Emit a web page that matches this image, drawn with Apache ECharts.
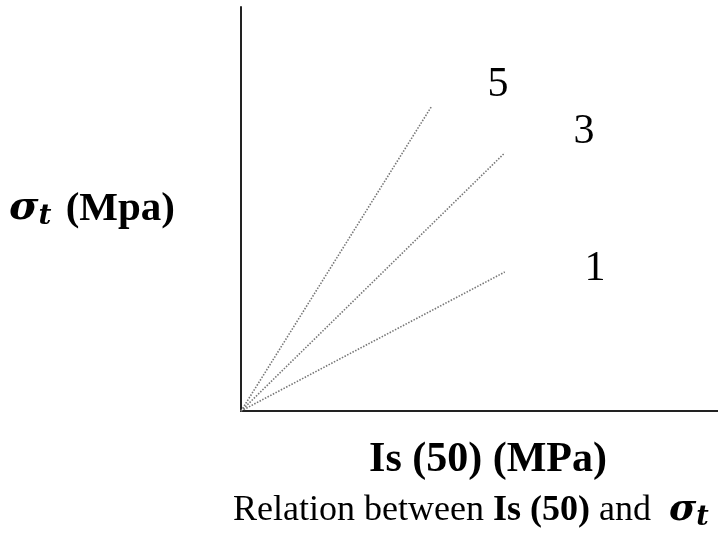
<!DOCTYPE html>
<html><head><meta charset="utf-8">
<script src="https://cdn.jsdelivr.net/npm/echarts@6/dist/echarts.min.js"></script>
<style>html,body{margin:0;padding:0;background:#fff}#c{width:718px;height:537px}</style>
</head><body><div id="c"></div>
<script>
// Line labels and end points (all lines start at origin)
const lineNames = ['5', '3', '1'];
const startX = [0, 0, 0];
const startY = [0, 0, 0];
const endX = [4.0, 5.53, 5.53];
const endY = [7.55, 6.39, 3.44];
// Label positions for the numbers
const labelX = [5.39, 7.19, 7.42];
const labelY = [8.07, 6.91, 3.51];

const chart = echarts.init(document.getElementById('c'));
const serif = "'Liberation Serif', 'Times New Roman', serif";
const mathSerif = "'DejaVu Serif', serif";

const series = lineNames.map((n, i) => ({
  type: 'line',
  name: 'k=' + n,
  data: [[startX[i], startY[i]], [endX[i], endY[i]]],
  symbol: 'none',
  lineStyle: { color: '#777', width: 1.6, type: [1.5, 1.5] },
  silent: true
}));
series.push({
  type: 'scatter',
  data: lineNames.map((n, i) => [labelX[i], labelY[i], n]),
  symbolSize: 0,
  itemStyle: { opacity: 1, color: '#000' },
  label: {
    show: true, position: 'inside', opacity: 1,
    formatter: p => p.data[2],
    fontFamily: serif, fontSize: 42, color: '#000', textBorderWidth: 0
  },
  silent: true
});

chart.setOption({
  animation: false,
  grid: { left: 241, right: 0, top: 7, bottom: 126, containLabel: false },
  xAxis: {
    type: 'value', min: 0, max: 10,
    axisLine: { show: true, onZero: false, lineStyle: { color: '#222', width: 2 } },
    axisTick: { show: false }, axisLabel: { show: false }, splitLine: { show: false },
    name: 'Is (50) (MPa)', nameLocation: 'middle', nameGap: 28,
    nameTextStyle: { fontFamily: serif, fontWeight: 'bold', fontSize: 42, color: '#000', padding: [0, 0, 0, 17] }
  },
  yAxis: {
    type: 'value', min: 0, max: 10,
    axisLine: { show: true, onZero: false, lineStyle: { color: '#222', width: 2 } },
    axisTick: { show: false }, axisLabel: { show: false }, splitLine: { show: false },
    name: '{s|σ}{t|t} {n|(Mpa)}', nameLocation: 'middle', nameGap: 66, nameRotate: 0,
    nameTextStyle: {
      fontFamily: serif, fontWeight: 'bold', fontSize: 41, color: '#000',
      rich: {
        n: { fontFamily: serif, fontWeight: 'bold', fontSize: 41, color: '#000' },
        s: { fontFamily: mathSerif, fontStyle: 'italic', fontWeight: 'bold', fontSize: 40, color: '#000' },
        t: { fontFamily: mathSerif, fontStyle: 'italic', fontWeight: 'bold', fontSize: 28, color: '#000', padding: [16, 4, 0, 0] }
      }
    }
  },
  graphic: [{
    type: 'text', left: 233, top: 492,
    style: {
      text: '{n|Relation between }{b|Is (50)}{n| and  }{s|σ}{t|t}',
      rich: {
        n: { fontFamily: serif, fontSize: 36, fill: '#000' },
        b: { fontFamily: serif, fontSize: 36, fontWeight: 'bold', fill: '#000' },
        s: { fontFamily: mathSerif, fontStyle: 'italic', fontWeight: 'bold', fontSize: 37, fill: '#000' },
        t: { fontFamily: mathSerif, fontStyle: 'italic', fontWeight: 'bold', fontSize: 27, fill: '#000', padding: [14, 0, 0, 0] }
      }
    }
  }],
  series: series
});
</script></body></html>
